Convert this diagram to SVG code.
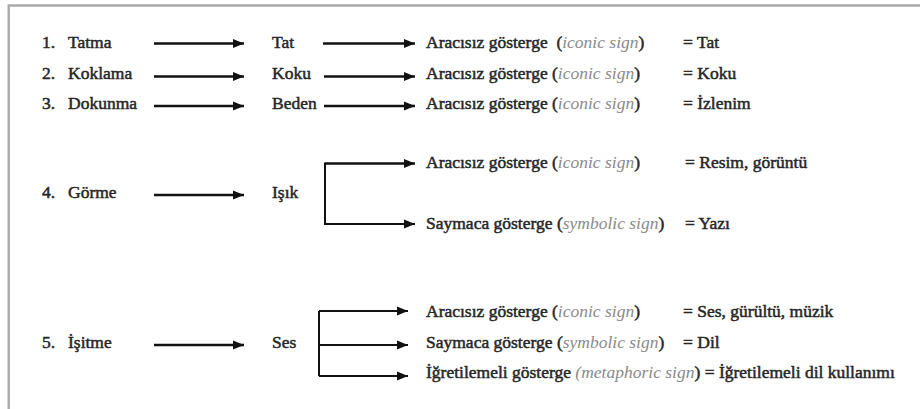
<svg xmlns="http://www.w3.org/2000/svg" width="920" height="409" viewBox="0 0 920 409">
<style>
text{font-family:"Liberation Serif","Times New Roman",serif;font-size:17.5px;fill:#262626;stroke:#262626;stroke-width:0.5px}
.it{font-style:italic;fill:#8a8a8a;stroke:none}
.c{stroke:#111;fill:none}
.m{stroke-width:2.6}
.b{stroke-width:2}
</style>
<defs>
<marker id="ah" markerUnits="userSpaceOnUse" markerWidth="12" markerHeight="10" refX="11" refY="4.5" orient="auto" viewBox="0 0 12 9">
<path d="M0,0 L11,4.5 L0,9 z" fill="#111"/>
</marker>
</defs>
<rect width="920" height="409" fill="#fff"/>
<g id="frame" stroke="#aaa" stroke-width="2.4" fill="none">
<line x1="8.7" y1="5.5" x2="920" y2="5.5"/>
<line x1="8.7" y1="4.5" x2="8.7" y2="409"/>
</g>
<g id="connectors">
<line class="c m" x1="154" y1="43.5" x2="244" y2="43.5" marker-end="url(#ah)"/>
<line class="c m" x1="323" y1="43.5" x2="415" y2="43.5" marker-end="url(#ah)"/>
<line class="c m" x1="154" y1="76.5" x2="244" y2="76.5" marker-end="url(#ah)"/>
<line class="c m" x1="324" y1="76.5" x2="415" y2="76.5" marker-end="url(#ah)"/>
<line class="c m" x1="154" y1="106" x2="244" y2="106" marker-end="url(#ah)"/>
<line class="c m" x1="324" y1="106" x2="415" y2="106" marker-end="url(#ah)"/>
<line class="c m" x1="154" y1="195" x2="244" y2="195" marker-end="url(#ah)"/>
<path class="c b" d="M415,163.5 H325 V224 H415" marker-end="url(#ah)"/>
<path class="c b" d="M325,163.5 H415" marker-end="url(#ah)"/>
<line class="c m" x1="154" y1="345" x2="244" y2="345" marker-end="url(#ah)"/>
<path class="c b" d="M319,311 V376"/>
<line class="c b" x1="319" y1="311" x2="408" y2="311" marker-end="url(#ah)"/>
<line class="c b" x1="319" y1="345" x2="408" y2="345" marker-end="url(#ah)"/>
<line class="c b" x1="319" y1="376" x2="408" y2="376" marker-end="url(#ah)"/>
</g>
<g id="row1">
<text x="42" y="48">1.</text><text x="68" y="48">Tatma</text>
<text x="272" y="48">Tat</text>
<text x="426" y="48" xml:space="preserve">Aracısız gösterge  (<tspan class="it">iconic sign</tspan>)</text>
<text x="683" y="48">= Tat</text>
</g>
<g id="row2">
<text x="42" y="79">2.</text><text x="68" y="79">Koklama</text>
<text x="272" y="79">Koku</text>
<text x="426" y="79">Aracısız gösterge (<tspan class="it">iconic sign</tspan>)</text>
<text x="683" y="79">= Koku</text>
</g>
<g id="row3">
<text x="42" y="109">3.</text><text x="68" y="109">Dokunma</text>
<text x="272" y="109">Beden</text>
<text x="426" y="109">Aracısız gösterge (<tspan class="it">iconic sign</tspan>)</text>
<text x="683" y="109">= İzlenim</text>
</g>
<g id="row4">
<text x="42" y="198">4.</text><text x="68" y="198">Görme</text>
<text x="272" y="198">Işık</text>
<text x="426" y="168">Aracısız gösterge (<tspan class="it">iconic sign</tspan>)</text>
<text x="685" y="168">= Resim, görüntü</text>
<text x="426" y="229">Saymaca gösterge (<tspan class="it">symbolic sign</tspan>)</text>
<text x="685" y="229">= Yazı</text>
</g>
<g id="row5">
<text x="42" y="348">5.</text><text x="68" y="348">İşitme</text>
<text x="272" y="348">Ses</text>
<text x="426" y="317">Aracısız gösterge (<tspan class="it">iconic sign</tspan>)</text>
<text x="683" y="317">= Ses, gürültü, müzik</text>
<text x="426" y="348">Saymaca gösterge (<tspan class="it">symbolic sign</tspan>)</text>
<text x="683" y="348">= Dil</text>
<text x="426" y="378">İğretilemeli gösterge <tspan class="it">(metaphoric sign</tspan>) = İğretilemeli dil kullanımı</text>
</g>
</svg>
